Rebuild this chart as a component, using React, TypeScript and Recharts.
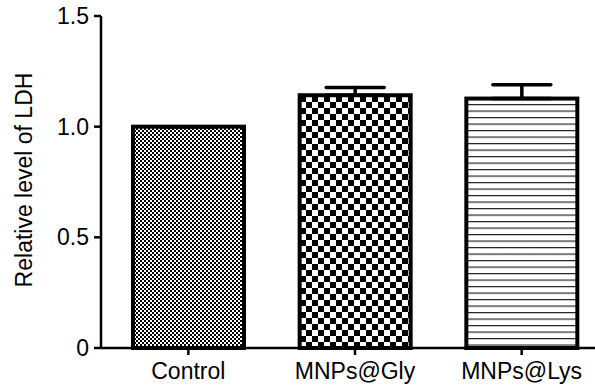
import { BarChart, Bar, XAxis, YAxis, ErrorBar, Label } from "recharts";

const groups = ["Control", "MNPs@Gly", "MNPs@Lys"];
const ldhLevel = [1.0, 1.142, 1.127];
const ldhError = [0, 0.035, 0.062];
const patternIds = ["ptControl", "ptGly", "ptLys"];
const yTicks = [0, 0.5, 1.0, 1.5];

const data = groups.map((name, i) => ({
  name,
  value: ldhLevel[i],
  err: [0, ldhError[i]],
  pattern: patternIds[i],
}));

const FONT = "Liberation Sans, Arial, sans-serif";

// side borders sit inside the bar's box, top border centred on the value
function PatternBar(props: any) {
  const { x, y, width, height, payload } = props;
  return (
    <rect
      x={x + 2}
      y={y}
      width={width - 4}
      height={height}
      fill={`url(#${payload.pattern})`}
      stroke="#000"
      strokeWidth={4}
    />
  );
}

export default function App() {
  return (
    <div
      style={{
        position: "fixed",
        left: 0,
        top: 0,
        width: 595,
        height: 392,
        overflow: "hidden",
        background: "#fff",
      }}
    >
      <BarChart
        width={620}
        height={392}
        data={data}
        margin={{ top: 16, right: 15, left: 0, bottom: 0 }}
        barSize={115}
      >
        <defs>
          <pattern id="ptControl" width="4" height="4" patternUnits="userSpaceOnUse">
            <rect width="4" height="4" fill="#fff" />
            <rect x="0" y="0" width="2" height="2" fill="#000" />
            <rect x="2" y="2" width="2" height="2" fill="#000" />
          </pattern>
          <pattern id="ptGly" width="12" height="12" patternUnits="userSpaceOnUse">
            <rect width="12" height="12" fill="#fff" />
            <rect x="0" y="0" width="6" height="6" fill="#000" />
            <rect x="6" y="6" width="6" height="6" fill="#000" />
          </pattern>
          <pattern id="ptLys" width="6.5" height="6.5" patternUnits="userSpaceOnUse">
            <rect width="6.5" height="6.5" fill="#fff" />
            <rect x="0" y="0" width="6.5" height="1.2" fill="#222" />
          </pattern>
        </defs>
        <XAxis
          dataKey="name"
          height={44}
          padding={{ left: 4, right: 0 }}
          axisLine={{ stroke: "#000", strokeWidth: 2.5 }}
          tickLine={{ stroke: "#000", strokeWidth: 2.5 }}
          tickSize={7}
          tickMargin={8}
          tick={{ fill: "#000", fontSize: 23, fontFamily: FONT }}
          interval={0}
        />
        <YAxis
          width={101}
          domain={[0, 1.5]}
          ticks={yTicks}
          tickFormatter={(v: number) => (v === 0 ? "0" : v.toFixed(1))}
          axisLine={{ stroke: "#000", strokeWidth: 2.5 }}
          tickLine={{ stroke: "#000", strokeWidth: 2.5 }}
          tickSize={7}
          tickMargin={5}
          tick={{ fill: "#000", fontSize: 23, fontFamily: FONT }}
        >
          <Label
            value="Relative level of LDH"
            angle={-90}
            position="insideLeft"
            offset={24}
            dy={-2}
            style={{ textAnchor: "middle", fill: "#000", fontSize: 23, fontFamily: FONT }}
          />
        </YAxis>
        <Bar dataKey="value" shape={PatternBar} isAnimationActive={false}>
          <ErrorBar
            dataKey="err"
            direction="y"
            width={29}
            stroke="#000"
            strokeWidth={3.5}
            strokeLinecap="round"
            isAnimationActive={false}
          />
        </Bar>
      </BarChart>
    </div>
  );
}
